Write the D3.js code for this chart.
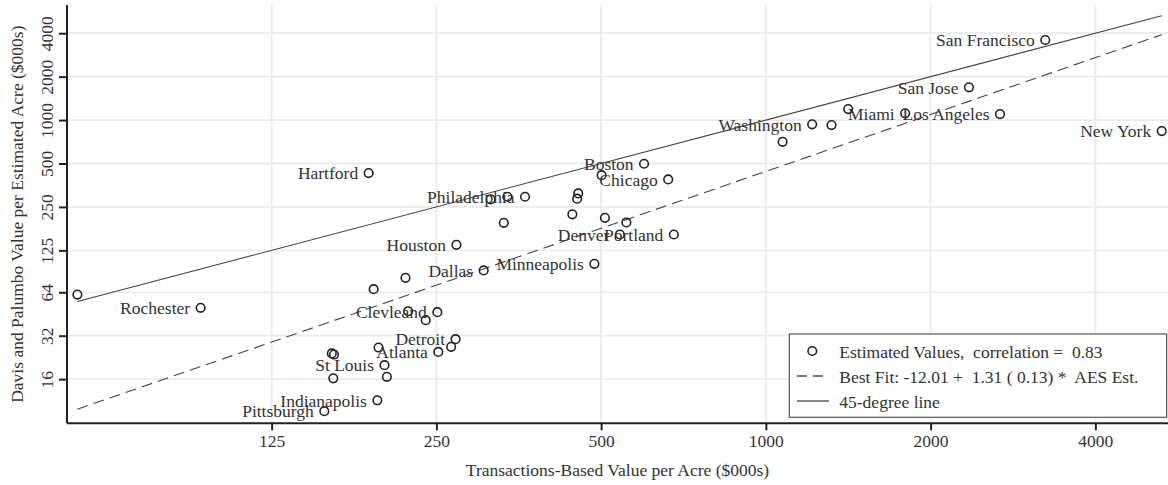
<!DOCTYPE html>
<html>
<head>
<meta charset="utf-8">
<script src="https://cdn.jsdelivr.net/npm/d3@7"></script>
<style>
  html, body { margin: 0; padding: 0; background: #fff; }
  svg { display: block; }
  text { font-family: "Liberation Serif", "Times New Roman", serif; fill: #333; }
</style>
</head>
<body>
<svg id="chart" width="1168" height="485"></svg>
<script>
// Metro areas (blank = point drawn without a label)
const cities = [
  "", "Rochester", "Hartford", "", "", "", "", "Clevleand", "Houston", "Dallas",
  "Minneapolis", "", "", "Philadelphia", "", "", "", "", "", "",
  "Denver", "Portland", "Boston", "", "Chicago", "", "Washington", "", "", "Miami",
  "Los Angeles", "San Jose", "San Francisco", "New York", "", "", "", "", "St Louis", "",
  "Indianapolis", "Pittsburgh", "Detroit", "", "Atlanta"
];
// Transactions-based value per acre ($000s)
const transValues = [
  55.2, 92.7, 188, 192, 219.5, 222, 239, 251, 272, 305,
  486, 314, 337, 363, 332, 443, 454, 452, 508, 556,
  541, 679, 599, 501, 663, 1073, 1215, 1318, 1414, 1797,
  2678, 2350, 3240, 5288, 161, 162.5, 162, 196, 201, 203,
  195, 156, 271, 266, 252
];
// Davis and Palumbo value per estimated acre ($000s)
const dpValues = [
  61.7, 49.9, 429, 67.3, 80.6, 47.3, 41.0, 46.6, 136.5, 90.7,
  100.8, 282, 294, 294, 194, 222, 310, 285, 210, 195,
  161, 161, 498, 415, 388, 707, 934, 923, 1192, 1113,
  1101, 1686, 3589, 839, 24.1, 23.7, 16.2, 26.5, 20.0, 16.6,
  11.4, 9.6, 30.3, 26.8, 24.7
];
const xTicks = [125, 250, 500, 1000, 2000, 4000];
const yTicks = [16, 32, 64, 125, 250, 500, 1000, 2000, 4000];

// Regression of the estimates on transaction values (log form)
const fitIntercept = -12.01;
const fitSlope = 1.31;
const fitSE = 0.13;
const correlation = 0.83;

const legendLabels = [
  "Estimated Values,  correlation =  " + correlation.toFixed(2),
  "Best Fit: " + fitIntercept.toFixed(2) + " +  " + fitSlope.toFixed(2) + " ( " + fitSE.toFixed(2) + ") *  AES Est.",
  "45-degree line"
];

const svg = d3.select("#chart");
const plotLeft = 67, plotRight = 1168, plotTop = 5, plotBottom = 423.3;
const FONT = 17.5;

const x = d3.scaleLog().base(2).domain([52.84, 5430]).range([plotLeft, plotRight]);
const y = d3.scaleLog().base(2).domain([7.906, 6275]).range([plotBottom, plotTop]);

// grid
const grid = svg.append("g").attr("stroke", "#ebebeb").attr("stroke-width", 1.8);
grid.selectAll("line.v").data(xTicks).enter().append("line")
  .attr("x1", d => x(d)).attr("x2", d => x(d)).attr("y1", plotTop).attr("y2", plotBottom);
grid.selectAll("line.h").data(yTicks).enter().append("line")
  .attr("x1", plotLeft).attr("x2", plotRight).attr("y1", d => y(d)).attr("y2", d => y(d));

// axes
const xAxis = svg.append("g").attr("transform", `translate(0,${plotBottom})`)
  .call(d3.axisBottom(x).tickValues(xTicks).tickFormat(d3.format("d")).tickSize(7).tickPadding(6));
const yAxis = svg.append("g").attr("transform", `translate(${plotLeft},0)`)
  .call(d3.axisLeft(y).tickValues(yTicks).tickFormat(d3.format("d")).tickSize(8));

[xAxis, yAxis].forEach(g => {
  g.select(".domain").attr("stroke", "#222").attr("stroke-width", 2);
  g.selectAll(".tick line").attr("stroke", "#222").attr("stroke-width", 2);
  g.selectAll(".tick text").attr("font-size", FONT)
    .attr("font-family", '"Liberation Serif", "Times New Roman", serif').attr("fill", "#333");
});
xAxis.select(".domain").attr("d", `M${plotLeft},0H${plotRight}`);
yAxis.select(".domain").attr("d", `M0,${plotTop}V${plotBottom}`);
xAxis.selectAll(".tick text").attr("dy", null).attr("y", 24);
yAxis.selectAll(".tick text")
  .attr("x", null).attr("dy", null)
  .attr("text-anchor", "middle")
  .attr("transform", "translate(-14.5,0) rotate(-90)");

// axis titles
svg.append("text")
  .attr("x", (plotLeft + plotRight) / 2).attr("y", 476)
  .attr("text-anchor", "middle").attr("font-size", FONT)
  .text("Transactions-Based Value per Acre ($000s)");
svg.append("text")
  .attr("transform", `translate(23,${(plotTop + plotBottom) / 2}) rotate(-90)`)
  .attr("text-anchor", "middle").attr("font-size", FONT)
  .text("Davis and Palumbo Value per Estimated Acre ($000s)");

// reference lines over the data range
const xExt = d3.extent(transValues);
const fitY = v => Math.exp(fitIntercept + fitSlope * Math.log(v * 1000));
const line = d3.line().x(d => x(d[0])).y(d => y(d[1]));

svg.append("path")
  .attr("d", line(xExt.map(v => [v, fitY(v)])))
  .attr("fill", "none").attr("stroke", "#444").attr("stroke-width", 1.1)
  .attr("stroke-dasharray", "11,6");
svg.append("path")
  .attr("d", line(xExt.map(v => [v, v])))
  .attr("fill", "none").attr("stroke", "#444").attr("stroke-width", 1.1);

// points
const data = cities.map((c, i) => ({ name: c, tx: transValues[i], dp: dpValues[i] }));
svg.append("g").selectAll("circle").data(data).enter().append("circle")
  .attr("cx", d => x(d.tx)).attr("cy", d => y(d.dp)).attr("r", 4.3)
  .attr("fill", "none").attr("stroke", "#222").attr("stroke-width", 1.6);

// labels to the left of their points
svg.append("g").selectAll("text").data(data.filter(d => d.name)).enter().append("text")
  .attr("x", d => x(d.tx) - 10.5).attr("y", d => y(d.dp) + 6.3)
  .attr("text-anchor", "end").attr("font-size", FONT)
  .text(d => d.name);

// legend
const lg = svg.append("g");
lg.append("rect").attr("x", 789.3).attr("y", 334).attr("width", 377.4).attr("height", 83.3)
  .attr("fill", "#fff").attr("stroke", "#555").attr("stroke-width", 1.2);
const rowY = [351, 376, 401];
lg.append("circle").attr("cx", 812.3).attr("cy", rowY[0]).attr("r", 4.3)
  .attr("fill", "none").attr("stroke", "#222").attr("stroke-width", 1.6);
lg.append("line").attr("x1", 797).attr("x2", 829).attr("y1", rowY[1]).attr("y2", rowY[1])
  .attr("stroke", "#444").attr("stroke-width", 1.3).attr("stroke-dasharray", "10,6");
lg.append("line").attr("x1", 797).attr("x2", 829).attr("y1", rowY[2]).attr("y2", rowY[2])
  .attr("stroke", "#444").attr("stroke-width", 1.3);
lg.selectAll("text.lbl").data(legendLabels).enter().append("text")
  .attr("x", 839.3).attr("y", (d, i) => rowY[i] + 6.5)
  .attr("font-size", FONT).style("white-space", "pre")
  .text(d => d);
</script>
</body>
</html>
